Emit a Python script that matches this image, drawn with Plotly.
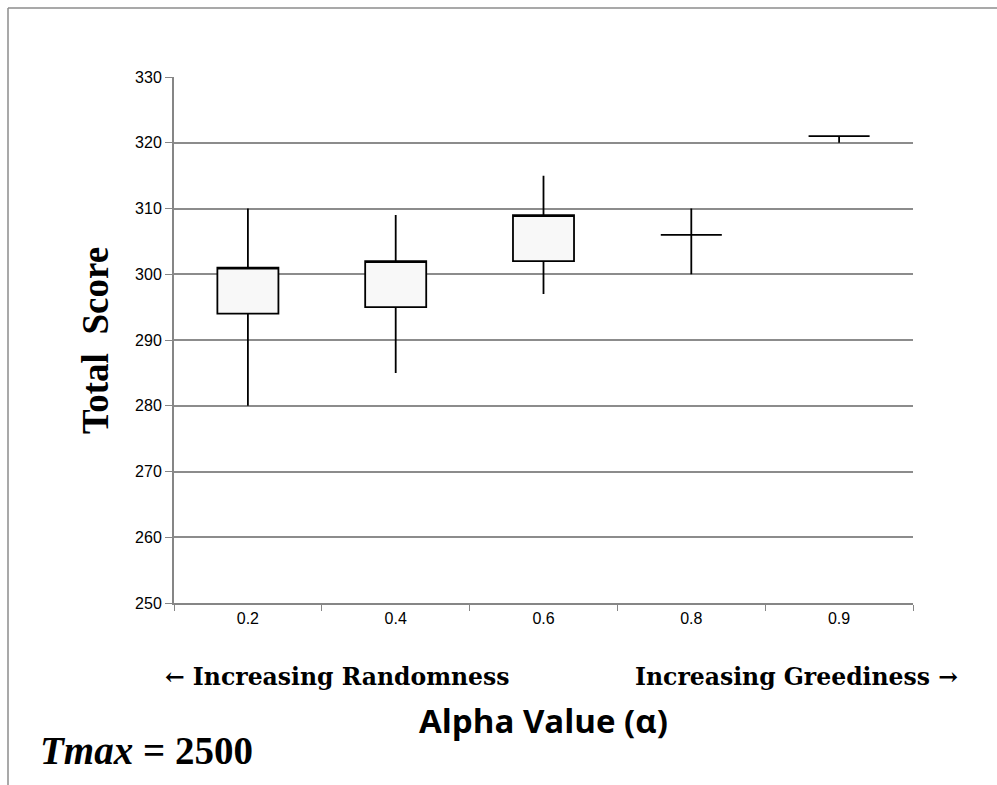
import plotly.graph_objects as go

alpha = ["0.2", "0.4", "0.6", "0.8", "0.9"]
open_v = [294, 295, 302, 306, 321]
high_v = [310, 309, 315, 310, 321]
low_v = [280, 285, 297, 300, 320]
close_v = [301, 302, 309, 306, 321]
y_ticks = [250, 260, 270, 280, 290, 300, 310, 320, 330]

fig = go.Figure()
fig.add_trace(go.Candlestick(
    x=alpha, open=open_v, high=high_v, low=low_v, close=close_v,
    increasing=dict(line=dict(color="black", width=1.8), fillcolor="#f8f8f8"),
    decreasing=dict(line=dict(color="black", width=1.8), fillcolor="#f8f8f8"),
    whiskerwidth=0, showlegend=False, hoverinfo="skip",
))

L, R, T, B = 174, 84, 77, 182
W, H = 997, 785
pw, ph = W - L - R, H - T - B

def px(x):
    return (x - L) / pw

def py(y):
    return (H - B - y) / ph

fig.update_layout(
    width=W, height=H,
    margin=dict(l=L, r=R, t=T, b=B, pad=0),
    paper_bgcolor="white", plot_bgcolor="white",
    boxgap=0.41,
    font=dict(family="Liberation Sans", size=16, color="black"),
    xaxis=dict(
        type="category", rangeslider=dict(visible=False),
        showgrid=False, showline=True, linecolor="#868686", linewidth=2,
        ticks="outside", tickson="boundaries", ticklen=6, tickcolor="#868686", tickwidth=1,
        tickfont=dict(family="Liberation Sans", size=16),
        fixedrange=True,
    ),
    yaxis=dict(
        range=[250, 330], tickvals=y_ticks,
        showgrid=True, gridcolor="#8c8c8c", gridwidth=1.5,
        showline=True, linecolor="#868686", linewidth=2,
        ticks="outside", ticklen=7, tickcolor="#868686", tickwidth=1,
        tickfont=dict(family="Liberation Sans", size=16),
        zeroline=False,
    ),
    shapes=[
        dict(type="line", xref="paper", yref="paper", x0=px(8), x1=px(997), y0=py(8), y1=py(8),
             line=dict(color="#8c8c8c", width=1.5)),
        dict(type="line", xref="paper", yref="paper", x0=px(8), x1=px(8), y0=py(8), y1=py(785),
             line=dict(color="#8c8c8c", width=1.5)),
    ],
    annotations=[
        dict(text="<b>Total  Score</b>", xref="paper", yref="paper", x=px(95), y=py(341),
             textangle=-90, showarrow=False, xanchor="center", yanchor="middle",
             font=dict(family="Liberation Serif", size=37, color="black")),
        dict(text="<b>← Increasing Randomness</b>", xref="paper", yref="paper", x=px(163), y=py(677),
             showarrow=False, xanchor="left", yanchor="middle",
             font=dict(family="DejaVu Serif", size=23.5, color="black")),
        dict(text="<b>Increasing Greediness →</b>", xref="paper", yref="paper", x=px(960), y=py(677),
             showarrow=False, xanchor="right", yanchor="middle",
             font=dict(family="DejaVu Serif", size=23.5, color="black")),
        dict(text="<b>Alpha Value (α)</b>", xref="paper", yref="paper", x=px(543), y=py(720),
             showarrow=False, xanchor="center", yanchor="middle",
             font=dict(family="Open Sans", size=33, color="black")),
        dict(text="<b><i>Tmax</i> = 2500</b>", xref="paper", yref="paper", x=px(38), y=py(750),
             showarrow=False, xanchor="left", yanchor="middle",
             font=dict(family="Liberation Serif", size=39, color="black")),
    ],
)

fig.write_html("out.html")
